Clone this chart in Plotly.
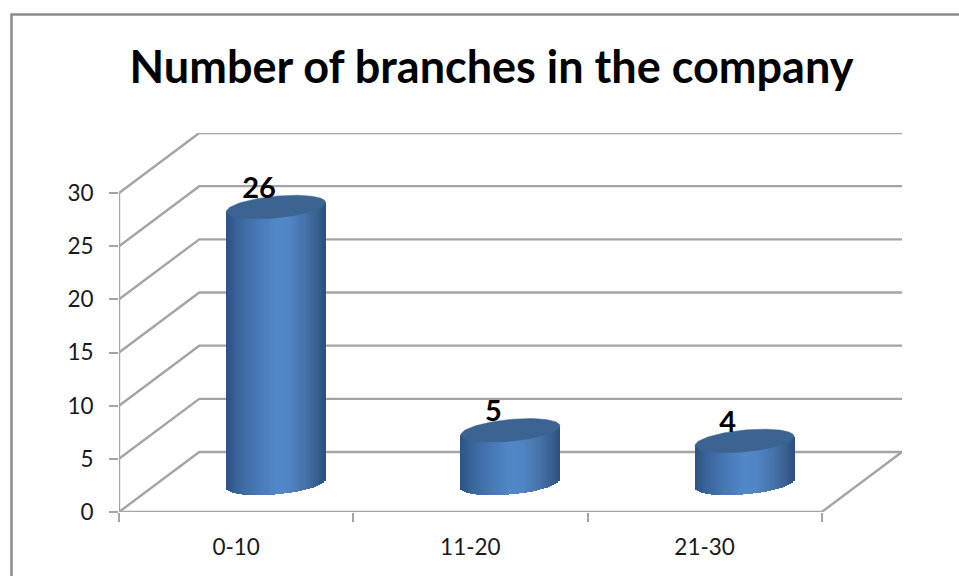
import numpy as np
import plotly.graph_objects as go

title = "Number of branches in the company"
categories = ["0-10", "11-20", "21-30"]
values = [26, 5, 4]
y_ticks = [0, 5, 10, 15, 20, 25, 30]

W, H = 959, 576
PX_L, PX_R, PX_B, PX_T = 119, 902, 512, 133
UX = 234.25               # px per category
UY = 319 / 30             # px per value unit
DEPTH_X = (PX_R - PX_L) / UX - 3
DEPTH_Y = (PX_B - PX_T) / UY - 30
GRID = "#a4a4a4"

# cylinder geometry (in px, converted to axis units)
A = 49.5
B = 10.9
SHEAR = 4.5
OFF_X = 40 / UX
OFF_Y = 28.5 / UY

stops = [(0, "#2c5282"), (.12, "#3a669c"), (.3, "#4777b4"), (.5, "#5287c8"), (.62, "#5186c6"),
         (.8, "#4673aa"), (.93, "#375e8e"), (1, "#2e4f7c")]


def shade(t):
    xs = [s[0] for s in stops]
    rgb = [[int(s[1][i:i + 2], 16) for s in stops] for i in (1, 3, 5)]
    return "rgb(%d,%d,%d)" % tuple(np.interp(t, xs, c) for c in rgb)


fig = go.Figure()


def line(xs, ys):
    fig.add_trace(go.Scatter(x=xs, y=ys, mode="lines", line=dict(color=GRID, width=2.4),
                             cliponaxis=False, hoverinfo="skip", showlegend=False))


for v in y_ticks:
    line([0, DEPTH_X, 3 + DEPTH_X], [v, v + DEPTH_Y, v + DEPTH_Y])
line([3, 3 + DEPTH_X], [0, DEPTH_Y])
line([0, 3], [0, 0])
line([0, 0], [0, 30])

n = 50
for i, v in enumerate(values):
    cx = i + 0.5 + OFF_X
    u = (np.arange(n) + 0.5) / n
    dx = (u * 2 - 1) * A
    ell = B * np.sqrt(1 - (dx / A) ** 2)
    tilt = SHEAR * dx / A
    fig.add_trace(go.Bar(
        x=cx + dx / UX,
        y=v + ell / UY,
        base=OFF_Y + (tilt - ell) / UY,
        width=(2 * A / n + 0.8) / UX,
        marker=dict(color=[shade(t) for t in u], line=dict(width=0)),
        xaxis="x2", yaxis="y2",
        hoverinfo="skip", showlegend=False))
    t = np.linspace(0, 2 * np.pi, 121)
    fig.add_trace(go.Scatter(
        x=cx + A * np.cos(t) / UX,
        y=v + OFF_Y + (B * np.sin(t) + SHEAR * np.cos(t)) / UY,
        mode="lines", fill="toself", fillcolor="#3c6493", line=dict(color="#3c6493", width=0.5),
        xaxis="x2", yaxis="y2",
        hoverinfo="skip", showlegend=False))
    fig.add_trace(go.Scatter(
        x=[cx - 17 / UX], y=[v + OFF_Y + 16.5 / UY],
        mode="text", text=[str(v)], textposition="middle center",
        textfont=dict(family="Lato", size=29, color="black", weight=700),
        xaxis="x2", yaxis="y2",
        cliponaxis=False, hoverinfo="skip", showlegend=False))

dom_x = [PX_L / W, PX_R / W]
dom_y = [1 - PX_B / H, 1 - PX_T / H]
range_x = [0, 3 + DEPTH_X]
range_y = [0, 30 + DEPTH_Y]

fig.update_layout(
    width=W, height=H, margin=dict(l=0, r=0, t=0, b=0, autoexpand=False),
    paper_bgcolor="white", plot_bgcolor="rgba(0,0,0,0)",
    barmode="overlay", bargap=0,
    title=dict(text="<b>%s</b>" % title, x=491.5 / W, xanchor="center", xref="paper",
               y=1 - 67 / H, yanchor="middle",
               font=dict(family="Lato", size=45, color="black")),
    xaxis=dict(domain=dom_x, range=range_x, showgrid=False, zeroline=False,
               showline=False, tickmode="array", tickvals=[0.5, 1.5, 2.5], ticktext=categories,
               ticks="", tickfont=dict(family="Lato", size=22.5, color="#1a1a1a"),
               ticklabelstandoff=19,
               minor=dict(tickmode="array", tickvals=[0, 1, 2, 3], ticks="outside", ticklen=9,
                          tickwidth=2, tickcolor=GRID, showgrid=False)),
    yaxis=dict(domain=dom_y, range=range_y, showgrid=False, zeroline=False,
               showline=False, tickmode="array", tickvals=y_ticks, ticks="outside", ticklen=9,
               tickwidth=2, tickcolor=GRID, tickfont=dict(family="Lato", size=22.5, color="#1a1a1a"),
               ticklabelstandoff=11),
    xaxis2=dict(domain=dom_x, range=range_x, overlaying="x", visible=False),
    yaxis2=dict(domain=dom_y, range=range_y, overlaying="y", visible=False),
    shapes=[dict(type="rect", xref="paper", yref="paper",
                 x0=11.5 / W, x1=1.02, y0=-0.02, y1=1 - 14.5 / H,
                 line=dict(color="#8c8c8c", width=2.5), fillcolor="rgba(0,0,0,0)", layer="below")],
)

fig.write_html("out.html", config=dict(displayModeBar=False),
               post_script="document.body.style.margin='0';")
